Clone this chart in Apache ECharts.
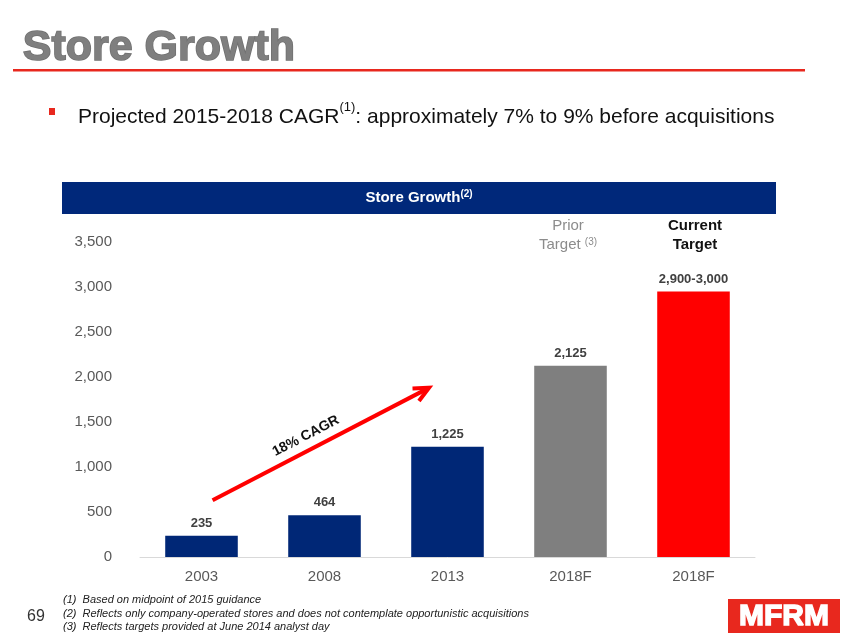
<!DOCTYPE html>
<html><head><meta charset="utf-8">
<script src="https://cdn.jsdelivr.net/npm/echarts@6/dist/echarts.min.js"></script>
<style>html,body{margin:0;padding:0;background:#fff;}#c{width:847px;height:635px;}</style>
</head><body><div id="c"></div>
<script>
var categories = ['2003', '2008', '2013', '2018F', '2018F'];
var storeCounts = [235, 464, 1225, 2125, 2950];
var valueLabels = ['235', '464', '1,225', '2,125', '2,900-3,000'];
var yTicks = [0, 500, 1000, 1500, 2000, 2500, 3000, 3500];
var arrowFrom = [0.09, 630];   // [category position, stores]
var arrowTo = [1.85, 1880];
var footnotes = [
  '(1)  Based on midpoint of 2015 guidance',
  '(2)  Reflects only company-operated stores and does not contemplate opportunistic acquisitions',
  '(3)  Reflects targets provided at June 2014 analyst day'
];
var barColors = ['#002776', '#002776', '#002776', '#7f7f7f', '#ff0000'];

var chart = echarts.init(document.getElementById('c'));
var F = 'Liberation Sans, Arial, sans-serif';

var graphics = [
  {type:'text', left:22, top:26, style:{text:'Store Growth', font:'bold 43px ' + F, fill:'#7f7f7f', stroke:'#6f6f6f', lineWidth:1.5}},
  {type:'rect', shape:{x:13, y:69, width:792, height:2.5}, style:{fill:'#e8281e'}},
  {type:'rect', shape:{x:49, y:108, width:6, height:7}, style:{fill:'#e8281e'}},
  {type:'text', x:78, y:95, style:{
    text:'{a|Projected 2015-2018 CAGR}{s|(1)}{a|: approximately 7% to 9% before acquisitions}',
    rich:{a:{font:'21px ' + F, fill:'#111', height:24, verticalAlign:'bottom'},
          s:{font:'13px ' + F, fill:'#111', verticalAlign:'top', height:24, padding:[0,0,10,0]}}
  }},
  {type:'rect', shape:{x:62, y:182, width:714, height:32}, style:{fill:'#00287a'}},
  {type:'text', x:419, y:198, style:{
    text:'{a|Store Growth}{s|(2)}', align:'center', verticalAlign:'middle',
    rich:{a:{font:'bold 15px ' + F, fill:'#fff'}, s:{font:'bold 10px ' + F, fill:'#fff', padding:[0,0,8,0]}}
  }},
  {type:'text', x:568, y:226, style:{text:'Prior', font:'15px ' + F, fill:'#8c8c8c', align:'center', verticalAlign:'middle'}},
  {type:'text', x:568, y:245, style:{
    text:'{a|Target }{s|(3)}', align:'center', verticalAlign:'middle',
    rich:{a:{font:'15px ' + F, fill:'#8c8c8c'}, s:{font:'10px ' + F, fill:'#8c8c8c', padding:[0,0,6,0]}}
  }},
  {type:'text', x:695, y:226, style:{text:'Current', font:'bold 15px ' + F, fill:'#111', align:'center', verticalAlign:'middle'}},
  {type:'text', x:695, y:245, style:{text:'Target', font:'bold 15px ' + F, fill:'#111', align:'center', verticalAlign:'middle'}},
  {type:'text', x:27, y:617, style:{text:'69', font:'16px ' + F, fill:'#333', verticalAlign:'middle'}},
  {type:'rect', shape:{x:728, y:599, width:112, height:34}, style:{fill:'#e8281e'}},
  {type:'text', x:784, y:617, style:{text:'MFRM', font:'bold 30px ' + F, fill:'#fff', stroke:'#fff', lineWidth:1.5, align:'center', verticalAlign:'middle'}}
];
footnotes.forEach(function (t, i) {
  graphics.push({type:'text', x:63, y:600 + i * 13.5, style:{text:t, font:'italic 11px ' + F, fill:'#222', verticalAlign:'middle'}});
});

chart.setOption({
  animation: false,
  grid: {left:140, right:92, top:242, bottom:78},
  xAxis: {
    type:'category', data:categories,
    axisLine:{lineStyle:{color:'#d9d9d9', width:1}}, axisTick:{show:false},
    axisLabel:{color:'#595959', fontSize:15, fontFamily:F, margin:12}
  },
  yAxis: {
    type:'value', min:yTicks[0], max:yTicks[yTicks.length - 1], interval:500,
    splitLine:{show:false}, axisLine:{show:false}, axisTick:{show:false},
    axisLabel:{color:'#595959', fontSize:15, fontFamily:F, margin:28,
      formatter:function (v) { return v.toLocaleString('en-US'); }}
  },
  series: [{
    type:'bar', data:storeCounts, barWidth:'59%',
    itemStyle:{color:function (p) { return barColors[p.dataIndex]; }},
    label:{show:true, position:'top', distance:6, fontFamily:F, fontWeight:'bold', fontSize:13, color:'#404040',
      formatter:function (p) { return valueLabels[p.dataIndex]; }}
  }],
  graphic: graphics
});

function toPx(pt) {
  var p0 = chart.convertToPixel({gridIndex:0}, [0, pt[1]]);
  var p1 = chart.convertToPixel({gridIndex:0}, [1, pt[1]]);
  return [p0[0] + (p1[0] - p0[0]) * pt[0], p0[1]];
}
var a = toPx(arrowFrom), b = toPx(arrowTo);
var ang = Math.atan2(b[1] - a[1], b[0] - a[0]);
var hl = 15, hw = 7;
var base = [b[0] - hl * Math.cos(ang), b[1] - hl * Math.sin(ang)];
var tip1 = [base[0] + hw * Math.sin(ang), base[1] - hw * Math.cos(ang)];
var tip2 = [base[0] - hw * Math.sin(ang), base[1] + hw * Math.cos(ang)];
chart.setOption({graphic: graphics.concat([
  {type:'line', shape:{x1:a[0], y1:a[1], x2:b[0] - 4 * Math.cos(ang), y2:b[1] - 4 * Math.sin(ang)}, style:{stroke:'#ff0000', lineWidth:4}},
  {type:'polyline', shape:{points:[tip1, b, tip2]}, style:{stroke:'#ff0000', lineWidth:4, fill:null, lineJoin:'miter'}},
  {type:'text', x:(a[0] + b[0]) / 2 - 15, y:(a[1] + b[1]) / 2 - 8, rotation:-ang,
   style:{text:'18% CAGR', font:'bold 14px ' + F, fill:'#111', align:'center', verticalAlign:'middle'}}
])});
</script></body></html>
